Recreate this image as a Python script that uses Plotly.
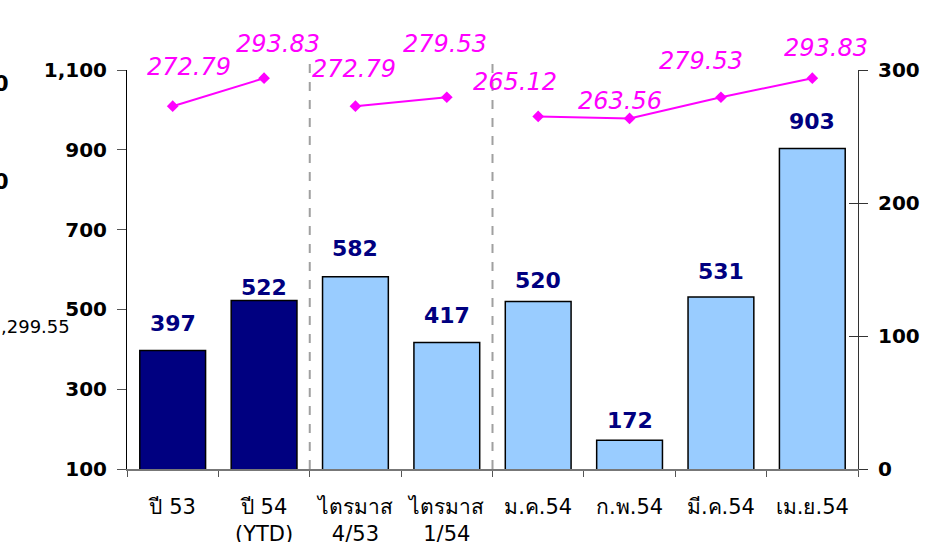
import plotly.graph_objects as go

# data
categories = ["ปี 53", "ปี 54<br>(YTD)", "ไตรมาส<br>4/53", "ไตรมาส<br>1/54",
              "ม.ค.54", "ก.พ.54", "มี.ค.54", "เม.ย.54"]
volume = [397, 522, 582, 417, 520, 172, 531, 903]
price = [272.79, 293.83, 272.79, 279.53, 265.12, 263.56, 279.53, 293.83]
price_labels = ["272.79", "293.83", "272.79", "279.53", "265.12", "263.56", "279.53", "293.83"]
groups = [0, 0, 1, 1, 2, 2, 2, 2]

# styling
bar_colors = ["#000080", "#000080"] + ["#99CCFF"] * 6
bar_label_shift = [27, 13, 28, 27, 21, 20, 26, 27]
line_label_dx = [16, 14, -1, -2, -23, -10, -20, 14]
line_label_dy = [39, 34, 37, 53, 34, 17, 36, 30]
FONT = "DejaVu Sans, Arial, sans-serif"

fig = go.Figure()

fig.add_trace(go.Bar(
    x=categories, y=volume,
    marker=dict(color=bar_colors, line=dict(color="black", width=1.5)),
    yaxis="y", showlegend=False, hoverinfo="x+y",
))

# price line, broken between groups
for g in sorted(set(groups)):
    idx = [i for i, gg in enumerate(groups) if gg == g]
    fig.add_trace(go.Scatter(
        x=[categories[i] for i in idx], y=[price[i] for i in idx],
        mode="lines+markers", yaxis="y2", showlegend=False,
        line=dict(color="#FF00FF", width=2),
        marker=dict(symbol="diamond", size=9, color="#FF00FF"),
        cliponaxis=False,
    ))

# invisible trace so the crossing-tick axis gets drawn
fig.add_trace(go.Scatter(x=[categories[0]], y=[None], yaxis="y3",
                         showlegend=False, hoverinfo="skip"))

annotations = []
for i, c in enumerate(categories):
    annotations.append(dict(
        x=c, y=volume[i], xref="x", yref="y", text=str(volume[i]),
        showarrow=False, yshift=bar_label_shift[i],
        font=dict(family=FONT, size=22, color="#000080", weight="bold"),
    ))
    annotations.append(dict(
        x=c, y=price[i], xref="x", yref="y2", text=price_labels[i],
        showarrow=False, xshift=line_label_dx[i], yshift=line_label_dy[i],
        font=dict(family=FONT, size=24, color="#FF00FF", style="italic"),
    ))

# fragments cut off at the left edge of the slide
annotations += [
    dict(x=-0.1587, y=1.0, xref="paper", yref="paper", text="0", showarrow=False,
         xanchor="right", font=dict(family=FONT, size=21, color="black", weight="bold")),
    dict(x=-0.1587, y=0.755, xref="paper", yref="paper", text="0", showarrow=False,
         xanchor="right", font=dict(family=FONT, size=21, color="black", weight="bold")),
    dict(x=-0.0755, y=0.358, xref="paper", yref="paper", text=",299.55", showarrow=False,
         xanchor="right", font=dict(family=FONT, size=18, color="black")),
]

shapes = [
    dict(type="line", xref="x", yref="paper", x0=x, x1=x, y0=0, y1=1.03,
         line=dict(color="#A0A0A0", width=2, dash="dash"))
    for x in [1.5, 3.5]
]

fig.update_layout(
    width=929, height=542,
    margin=dict(l=127, r=71, t=70, b=73),
    plot_bgcolor="white", paper_bgcolor="white",
    bargap=0.28,
    font=dict(family=FONT, color="black"),
    annotations=annotations,
    shapes=shapes,
    xaxis=dict(
        type="category", range=[-0.5, 7.5], automargin=False,
        tickson="boundaries", ticks="outside", ticklen=6, tickcolor="#555",
        showline=True, linecolor="#777", linewidth=1.5,
        tickfont=dict(family=FONT, size=21, color="black"),
        ticklabelstandoff=18,
        showgrid=False,
    ),
    yaxis=dict(
        range=[100, 1100], dtick=200, tick0=100, tickformat=",d", automargin=False,
        ticks="outside", ticklen=9, tickcolor="#555",
        showline=True, linecolor="black", linewidth=1,
        tickfont=dict(family=FONT, size=20, color="black", weight="bold"),
        ticklabelstandoff=6,
        showgrid=False, zeroline=False,
    ),
    yaxis2=dict(
        range=[0, 300], dtick=100, overlaying="y", side="right", automargin=False,
        ticks="outside", ticklen=9, tickcolor="#333",
        showline=True, linecolor="#333", linewidth=1,
        tickfont=dict(family=FONT, size=20, color="black", weight="bold"),
        ticklabelstandoff=6,
        showgrid=False, zeroline=False,
    ),
    yaxis3=dict(
        range=[0, 300], dtick=100, overlaying="y", side="right", automargin=False,
        ticks="inside", ticklen=9, tickcolor="#333",
        showticklabels=False, showline=False,
        showgrid=False, zeroline=False,
    ),
)

# drop the default page margin so the figure fills the window
fig.write_html("out.html", config={"displayModeBar": False},
               post_script="document.body.style.margin='0';")
